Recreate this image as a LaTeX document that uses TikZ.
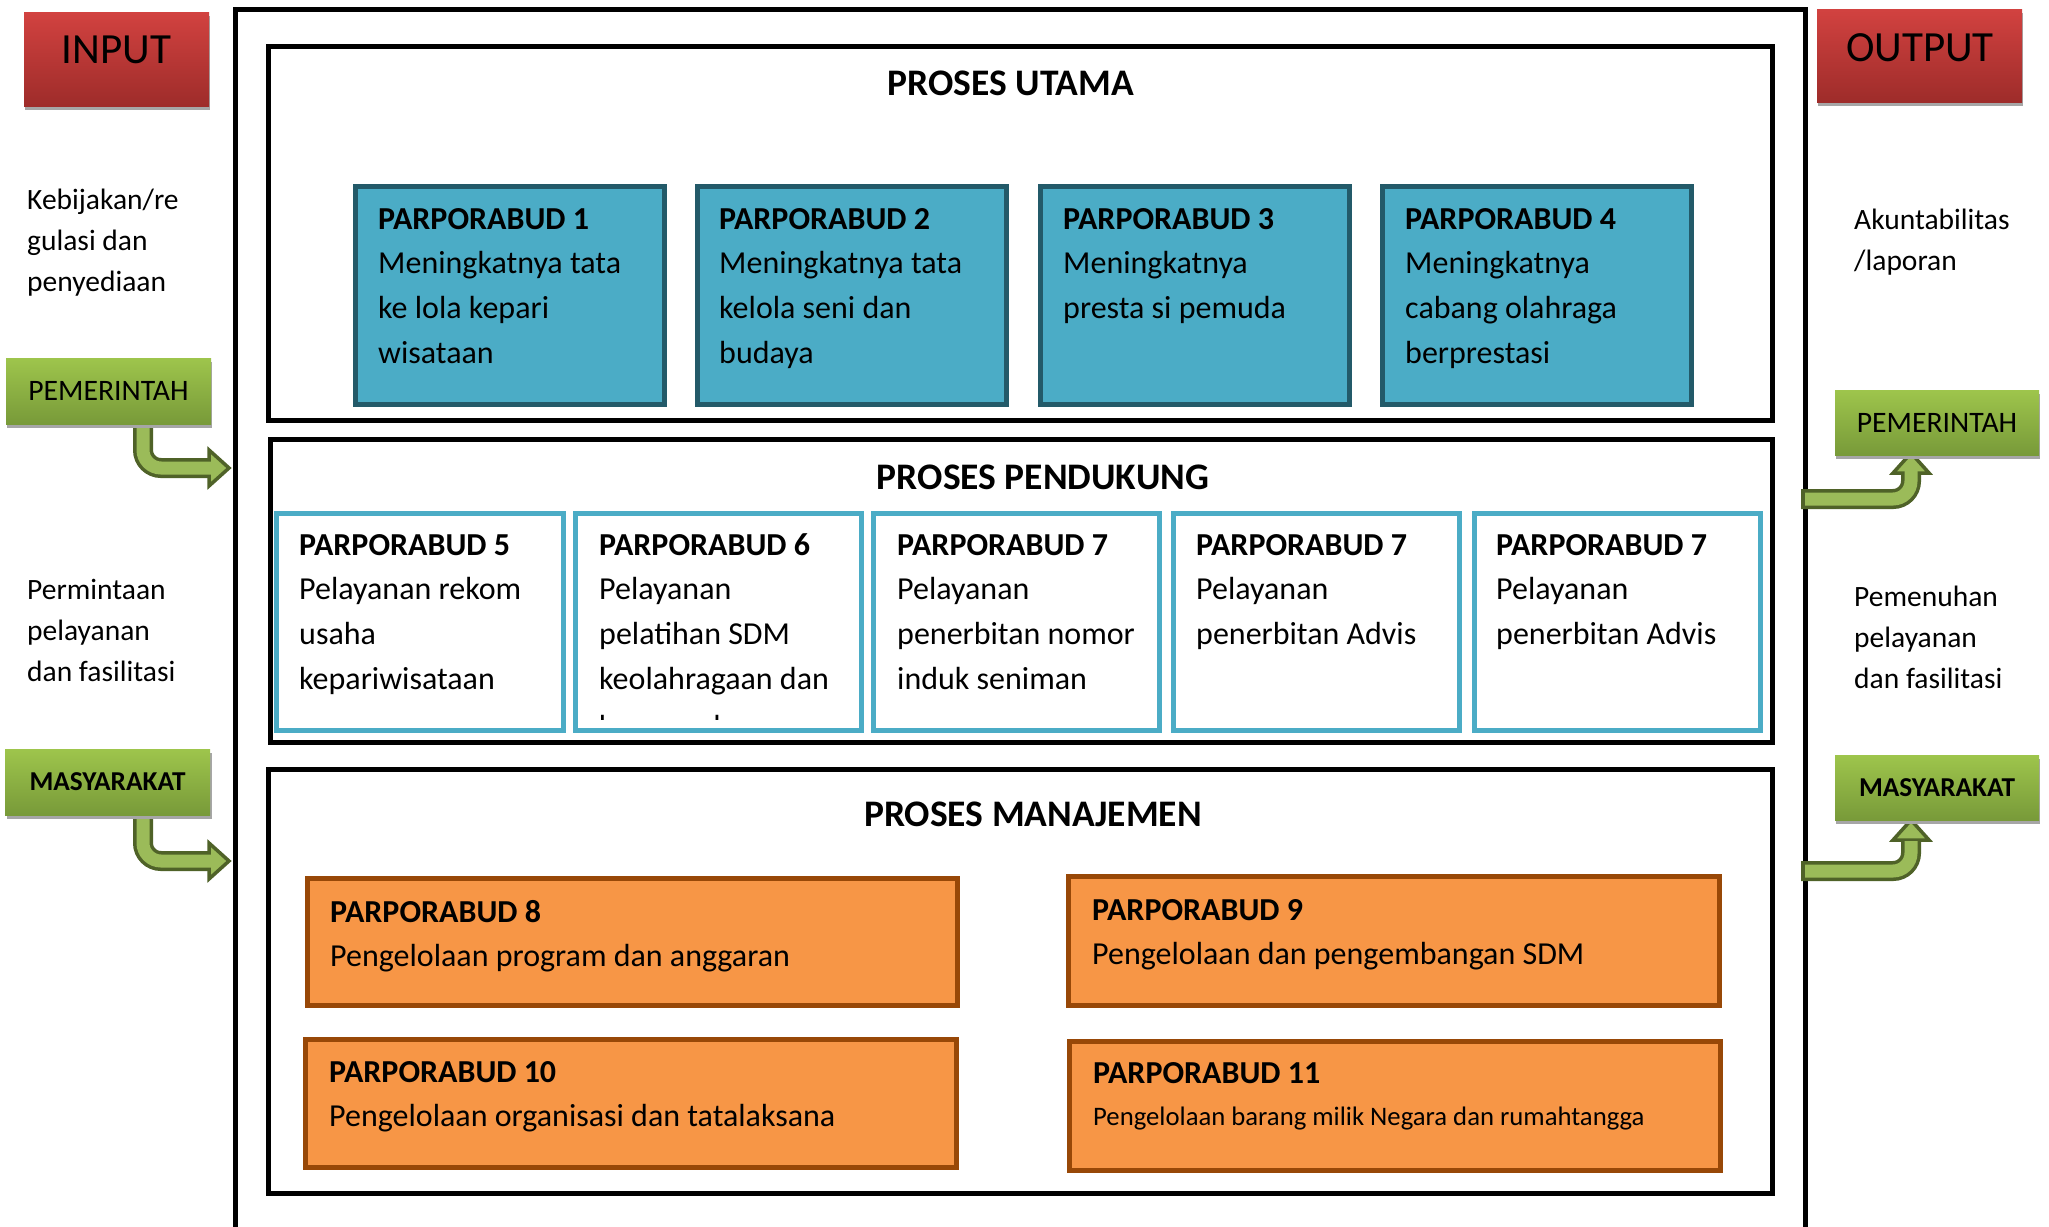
\documentclass[tikz,border=0pt]{standalone}
\usepackage{fontspec}
\setmainfont{Carlito}
\definecolor{redtop}{RGB}{210,66,64}
\definecolor{redbot}{RGB}{158,44,42}
\definecolor{greentop}{RGB}{158,197,76}
\definecolor{greenbot}{RGB}{120,154,57}
\definecolor{shadowgray}{RGB}{166,166,166}
\definecolor{arrowfill}{RGB}{155,187,89}
\definecolor{arrowdark}{RGB}{79,98,40}
\definecolor{tealfill}{RGB}{75,172,198}
\definecolor{tealborder}{RGB}{35,90,105}
\definecolor{lightblue}{RGB}{75,172,198}
\definecolor{orangefill}{RGB}{247,150,70}
\definecolor{orangeborder}{RGB}{152,72,7}
\begin{document}
\begin{tikzpicture}[x=1pt,y=-1pt,
  secbox/.style={draw=black,fill=white,line width=5pt,inner sep=0pt},
  tealbox/.style={draw=tealborder,fill=tealfill,line width=5pt,inner sep=0pt},
  bluebox/.style={draw=lightblue,fill=white,line width=5pt,inner sep=0pt},
  orangebox/.style={draw=orangeborder,fill=orangefill,line width=5pt,inner sep=0pt},
  redbox/.style={top color=redtop,bottom color=redbot,draw=none,inner sep=0pt},
  greenbox/.style={top color=greentop,bottom color=greenbot,draw=none,inner sep=0pt},
  shadowbox/.style={fill=shadowgray,draw=none,inner sep=0pt},
  boxtext/.style={anchor=base west,align=left,inner sep=0pt,font=\fontsize{32}{44.7}\selectfont},
  sidetext/.style={anchor=base west,align=left,inner sep=0pt,font=\fontsize{29.5}{41}\selectfont},
  sectitle/.style={anchor=base,inner sep=0pt,font=\bfseries\fontsize{37.5}{40}\selectfont},
  arrowout/.style={draw=arrowdark,line width=20pt,rounded corners=18pt},
  arrowin/.style={draw=arrowfill,line width=13pt,rounded corners=18pt},
  arrowhead/.style={fill=arrowfill,draw=arrowdark,line width=3.5pt,line join=miter}
]
\useasboundingbox (0,0) rectangle (2049,1226);
\fill[white] (0,0) rectangle (2049,1226);

% outer frame
\coordinate (fbl) at (235,1235);
\coordinate (ftl) at (235,9);
\coordinate (ftr) at (1805,9);
\coordinate (fbr) at (1805,1235);
\draw[line width=5pt,line join=miter] (fbl) -- (ftl) -- (ftr) -- (fbr);

% section boxes
\node[secbox,minimum width=1504,minimum height=374] (utama) at (1020,233) {};
\node[secbox,minimum width=1502,minimum height=303] (dukung) at (1021,590.5) {};
\node[secbox,minimum width=1504,minimum height=424] (manaj) at (1020,981) {};
\node[sectitle] (utamaT) at (1011,95) {PROSES UTAMA};
\node[sectitle] (dukungT) at (1043,489) {PROSES PENDUKUNG};
\node[sectitle] (manajT) at (1033,826) {PROSES MANAJEMEN};

% proses utama boxes
\node[tealbox,minimum width=309,minimum height=218] (b1) at (510,295.5) {};
\node[tealbox,minimum width=309,minimum height=218] (b2) at (851.5,295.5) {};
\node[tealbox,minimum width=309,minimum height=218] (b3) at (1195,295.5) {};
\node[tealbox,minimum width=309,minimum height=218] (b4) at (1536.5,295.5) {};
% (multi-line nodes: the base anchor sits on the last line)
\node[boxtext] (t1) at (378,363.1) {\textbf{PARPORABUD 1}\\Meningkatnya tata\\ke lola kepari\\wisataan};
\node[boxtext] (t2) at (719,363.1) {\textbf{PARPORABUD 2}\\Meningkatnya tata\\kelola seni dan\\budaya};
\node[boxtext] (t3) at (1063,318.4) {\textbf{PARPORABUD 3}\\Meningkatnya\\presta si pemuda};
\node[boxtext] (t4) at (1405,363.1) {\textbf{PARPORABUD 4}\\Meningkatnya\\cabang olahraga\\berprestasi};

% proses pendukung boxes
\node[bluebox,minimum width=287,minimum height=217] (b5) at (420,622) {};
\node[bluebox,minimum width=286,minimum height=217] (b6) at (718.5,622) {};
\node[bluebox,minimum width=286,minimum height=217] (b7a) at (1016.5,622) {};
\node[bluebox,minimum width=286,minimum height=217] (b7b) at (1316.5,622) {};
\node[bluebox,minimum width=286,minimum height=217] (b7c) at (1617.5,622) {};
\node[boxtext] (t5) at (299,689.1) {\textbf{PARPORABUD 5}\\Pelayanan rekom\\usaha\\kepariwisataan};
\node[boxtext] (t6) at (599,689.1) {\textbf{PARPORABUD 6}\\Pelayanan\\pelatihan SDM\\keolahragaan dan};
\begin{scope}
\clip (590,700) rectangle (860,719);
\node[boxtext] (t6x) at (599,737) {kepemudaan};
\end{scope}
\node[boxtext] (t7a) at (897,689.1) {\textbf{PARPORABUD 7}\\Pelayanan\\penerbitan nomor\\induk seniman};
\node[boxtext] (t7b) at (1196,644.4) {\textbf{PARPORABUD 7}\\Pelayanan\\penerbitan Advis};
\node[boxtext] (t7c) at (1496,644.4) {\textbf{PARPORABUD 7}\\Pelayanan\\penerbitan Advis};

% proses manajemen boxes
\node[orangebox,minimum width=650,minimum height=127] (b8) at (632.5,942) {};
\node[orangebox,minimum width=651,minimum height=129] (b9) at (1394,941) {};
\node[orangebox,minimum width=651,minimum height=128] (b10) at (631,1103.5) {};
\node[orangebox,minimum width=651,minimum height=129] (b11) at (1395,1106) {};
\node[boxtext] (t8) at (330,966.7) {\textbf{PARPORABUD 8}\\Pengelolaan program dan anggaran};
\node[boxtext] (t9) at (1092,964.7) {\textbf{PARPORABUD 9}\\Pengelolaan dan pengembangan SDM};
\node[boxtext] (t10) at (329,1126.7) {\textbf{PARPORABUD 10}\\Pengelolaan organisasi dan tatalaksana};
\node[boxtext] (t11) at (1093,1083) {\textbf{PARPORABUD 11}};
\node[boxtext,font=\fontsize{26.7}{30}\selectfont] (t11b) at (1093,1125) {Pengelolaan barang milik Negara dan rumahtangga};

% side texts
\node[sidetext] (kebij) at (27,291) {Kebijakan/re\\gulasi dan\\penyediaan};
\node[sidetext] (minta) at (27,681) {Permintaan\\pelayanan\\dan fasilitasi};
\node[sidetext] (akun) at (1854,270) {Akuntabilitas\\/laporan};
\node[sidetext] (penuh) at (1854,688) {Pemenuhan\\pelayanan\\dan fasilitasi};

% arrows (drawn before the green boxes)
\coordinate (la1a) at (143,418);
\coordinate (la1b) at (213,468);
\coordinate (la1c) at (214,468);
\draw[arrowout] (la1a) |- (la1b);
\draw[arrowhead] (209,450) -- (229,468) -- (209,486) -- cycle;
\draw[arrowin] (la1a) |- (la1c);

\coordinate (la2a) at (143,810);
\coordinate (la2b) at (213,861);
\coordinate (la2c) at (214,861);
\draw[arrowout] (la2a) |- (la2b);
\draw[arrowhead] (209,843) -- (229,861) -- (209,879) -- cycle;
\draw[arrowin] (la2a) |- (la2c);

\coordinate (ra1a) at (1801,499);
\coordinate (ra1i) at (1805,499);
\coordinate (ra1b) at (1911,470);
\coordinate (ra1c) at (1911,469);
\draw[arrowout] (ra1a) -| (ra1b);
\draw[arrowhead] (1893,473) -- (1911,453) -- (1929,473) -- cycle;
\draw[arrowin] (ra1i) -| (ra1c);

\coordinate (ra2a) at (1801,871);
\coordinate (ra2i) at (1805,871);
\coordinate (ra2b) at (1911,842);
\coordinate (ra2c) at (1911,841);
\draw[arrowout] (ra2a) -| (ra2b);
\draw[arrowhead] (1893,840) -- (1911,820) -- (1929,840) -- cycle;
\draw[arrowin] (ra2i) -| (ra2c);

% red header boxes
\node[shadowbox,minimum width=185,minimum height=94] (inputsh) at (117.5,63) {};
\node[redbox,minimum width=185,minimum height=94] (input) at (116.5,59) {};
\node[anchor=base,inner sep=0pt,font=\fontsize{43}{46}\selectfont] (inputT) at (116.5,63) {INPUT};
\node[shadowbox,minimum width=205,minimum height=93] (outputsh) at (1920.5,59.5) {};
\node[redbox,minimum width=205,minimum height=93] (output) at (1919.5,55.5) {};
\node[anchor=base,inner sep=0pt,font=\fontsize{43}{46}\selectfont] (outputT) at (1920,61) {OUTPUT};

% green boxes
\node[shadowbox,minimum width=205,minimum height=66] (pemLsh) at (109.5,395) {};
\node[greenbox,minimum width=205,minimum height=66,font=\fontsize{29.7}{32}\selectfont] (pemL) at (108.5,391) {PEMERINTAH};
\node[shadowbox,minimum width=205,minimum height=66] (masLsh) at (109.5,786) {};
\node[greenbox,minimum width=205,minimum height=66,font=\bfseries\fontsize{27.3}{30}\selectfont] (masL) at (107.5,782) {MASYARAKAT};
\node[shadowbox,minimum width=204,minimum height=65] (pemRsh) at (1938,426.5) {};
\node[greenbox,minimum width=204,minimum height=65,font=\fontsize{29.7}{32}\selectfont] (pemR) at (1937,422.5) {PEMERINTAH};
\node[shadowbox,minimum width=204,minimum height=65] (masRsh) at (1938,791.5) {};
\node[greenbox,minimum width=204,minimum height=65,font=\bfseries\fontsize{27.3}{30}\selectfont] (masR) at (1937,787.5) {MASYARAKAT};
\end{tikzpicture}
\end{document}
